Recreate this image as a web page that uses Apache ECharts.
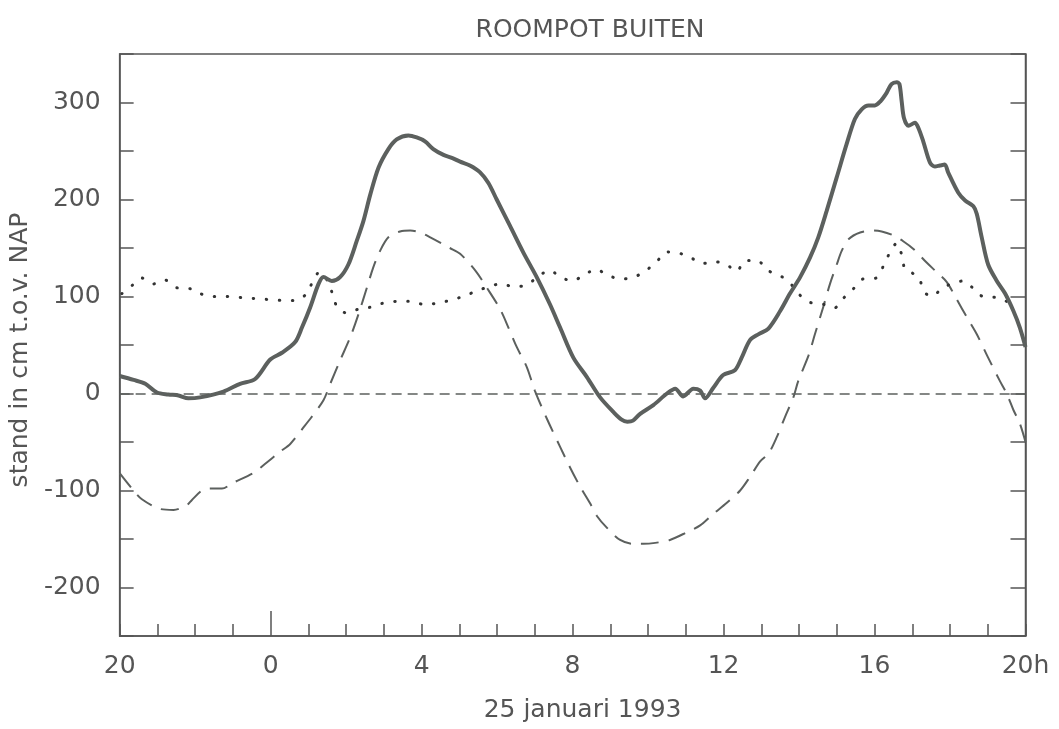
<!DOCTYPE html>
<html>
<head>
<meta charset="utf-8">
<script src="https://cdn.jsdelivr.net/npm/echarts@6/dist/echarts.min.js"></script>
<style>html,body{margin:0;padding:0;background:#fff}#c{width:1059px;height:729px}</style>
</head>
<body>
<div id="c"></div>
<script>
// hours since 20h on 24 Jan 1993 (0..24) -> water level in cm NAP
const titleText = 'ROOMPOT BUITEN';
const xName = '25 januari 1993';
const yName = 'stand in cm t.o.v. NAP';
const xTickLabels = ['20', '0', '4', '8', '12', '16', '20h'];
const xLabelHours = [0, 4, 8, 12, 16, 20, 24];
const midnightHour = [4];

const measured = [
  [0,18],[0.37,14],[0.68,10],[0.99,1],[1.29,-1],[1.56,-2],[1.82,-5],[2.13,-4],[2.75,2],[3.19,10],
  [3.59,15],[3.99,35],[4.3,42],[4.65,53],[4.83,68],[5.05,89],[5.27,113],[5.4,120],[5.62,116],[5.84,120],
  [6.06,133],[6.28,157],[6.46,178],[6.64,205],[6.86,233],[7.12,252],[7.34,262],[7.65,266],[7.87,264],[8.09,260],
  [8.31,252],[8.58,246],[8.8,243],[9.02,239],[9.28,235],[9.55,228],[9.77,217],[9.99,200],[10.34,173],[10.7,145],
  [11.05,120],[11.4,92],[11.67,68],[12.02,37],[12.38,17],[12.73,-4],[13.08,-19],[13.3,-27],[13.45,-29],[13.6,-28],
  [13.79,-21],[14.14,-12],[14.5,0],[14.72,5],[14.93,-3],[15.2,5],[15.38,3],[15.51,-5],[15.73,6],[15.99,19],
  [16.3,24],[16.48,37],[16.7,55],[16.92,61],[17.19,67],[17.5,85],[17.76,103],[18.03,120],[18.29,140],[18.51,161],
  [18.73,188],[19.0,223],[19.26,257],[19.48,283],[19.66,293],[19.84,297],[20.01,297],[20.15,301],[20.32,310],[20.45,319],
  [20.59,321],[20.66,319],[20.72,301],[20.78,284],[20.9,276],[21.07,279],[21.16,274],[21.29,260],[21.47,238],[21.6,234],
  [21.73,235],[21.86,236],[21.95,228],[22.22,207],[22.4,199],[22.62,193],[22.71,185],[22.84,161],[23.01,133],[23.24,116],
  [23.46,103],[23.68,85],[23.85,68],[24.0,48]
];

const astronomical = [
  [0,-82],[0.37,-100],[0.59,-109],[1.07,-119],[1.43,-120],[1.78,-115],[1.91,-110],[2.18,-100],[2.4,-98],[2.71,-98],
  [3.01,-92],[3.54,-82],[3.81,-74],[4.25,-60],[4.52,-52],[4.87,-35],[5.09,-24],[5.4,-7],[5.58,10],[5.84,34],
  [6.11,58],[6.33,82],[6.55,109],[6.72,130],[6.9,147],[7.12,161],[7.43,167],[7.7,168],[7.96,166],[8.23,161],
  [8.75,150],[9.02,144],[9.42,127],[9.73,109],[10.08,87],[10.3,68],[10.52,48],[10.79,27],[11.0,3],[11.32,-26],
  [11.67,-55],[11.93,-76],[12.2,-96],[12.46,-113],[12.64,-126],[12.9,-138],[13.26,-151],[13.61,-155],[13.88,-155],[14.19,-154],
  [14.58,-151],[15.03,-143],[15.38,-136],[15.73,-124],[16.08,-113],[16.44,-100],[16.7,-86],[16.97,-70],[17.19,-62],[17.41,-45],
  [17.63,-24],[17.85,-4],[17.98,13],[18.25,39],[18.42,61],[18.64,89],[18.82,113],[19.0,133],[19.13,147],[19.31,159],
  [19.62,166],[19.97,168],[20.19,167],[20.5,163],[20.76,157],[21.03,149],[21.38,135],[21.65,125],[21.91,115],[22.18,97],
  [22.44,79],[22.71,61],[23.01,37],[23.32,13],[23.5,0],[23.68,-17],[23.85,-31],[24.0,-50]
];

const dotted = [
  [0.06,103],[0.35,112],[0.59,119],[0.9,113],[1.2,117],[1.52,109],[1.87,108],[2.13,103],[2.48,100],[2.84,100],
  [3.19,99],[3.54,98],[3.9,97],[4.3,96],[4.65,96],[4.96,103],[5.11,115],[5.29,125],[5.53,115],[5.65,101],
  [5.78,88],[6.02,83],[6.33,87],[6.64,89],[6.97,93],[7.34,95],[7.7,95],[8.05,92],[8.4,93],[8.75,96],
  [9.09,100],[9.42,105],[9.77,110],[10.1,113],[10.46,110],[10.79,112],[11.07,120],[11.39,127],[11.65,121],[11.98,116],
  [12.3,122],[12.62,128],[12.93,122],[13.28,118],[13.63,120],[13.95,127],[14.23,136],[14.5,146],[14.8,145],[15.13,140],
  [15.45,134],[15.75,136],[16.07,133],[16.35,126],[16.57,137],[16.9,137],[17.16,127],[17.48,122],[17.78,113],[17.98,103],
  [18.29,94],[18.64,92],[18.93,88],[19.17,98],[19.44,108],[19.69,118],[20.04,119],[20.23,131],[20.39,144],[20.59,155],
  [20.72,143],[20.81,128],[21.01,124],[21.19,118],[21.31,105],[21.52,100],[21.8,109],[22.04,113],[22.34,116],[22.6,109],
  [22.87,100],[23.2,99],[23.5,95],[23.81,91]
];

const zeroLevel = 0;

const FONT = 'DejaVu Sans';
const TXT = '#555555';
const AX = '#555555';
const LINE = '#5c605e';

const chart = echarts.init(document.getElementById('c'), null, {renderer: 'canvas'});
chart.setOption({
  animation: false,
  backgroundColor: '#ffffff',
  textStyle: {fontFamily: FONT},
  title: {
    text: titleText, left: 585, top: 13, textAlign: 'center',
    textStyle: {fontFamily: FONT, fontSize: 25, fontWeight: 'normal', color: TXT}
  },
  grid: {left: 119.5, right: 33.5, top: 54, bottom: 93, show: true, borderColor: AX, borderWidth: 1.5, backgroundColor: 'transparent'},
  xAxis: [{
    type: 'value', min: 0, max: 24, interval: 1,
    axisLine: {show: true, onZero: false, lineStyle: {color: AX, width: 1.5}},
    axisTick: {show: true, inside: true, length: 12, lineStyle: {color: AX, width: 1.5}},
    axisLabel: {
      customValues: xLabelHours,
      formatter: function (v) { const i = xLabelHours.indexOf(v); return i >= 0 ? xTickLabels[i] : ''; },
      fontFamily: FONT, fontSize: 25, color: TXT, margin: 18
    },
    splitLine: {show: false},
    name: xName, nameLocation: 'middle', nameGap: 62,
    nameTextStyle: {fontFamily: FONT, fontSize: 25, color: TXT, padding: [0, 0, 0, 20]}
  }, {
    type: 'value', min: 0, max: 24, position: 'bottom',
    axisLine: {show: false, onZero: false},
    axisTick: {show: true, inside: true, length: 25, customValues: midnightHour, lineStyle: {color: AX, width: 1.5}},
    axisLabel: {show: false},
    splitLine: {show: false}
  }],
  yAxis: [{
    type: 'value', min: -250, max: 350, interval: 50,
    axisLine: {show: true, onZero: false, lineStyle: {color: AX, width: 1.5}},
    axisTick: {show: true, inside: true, length: 14, lineStyle: {color: AX, width: 1.5}},
    axisLabel: {
      formatter: function (v) { return v % 100 === 0 ? String(v) : ''; },
      fontFamily: FONT, fontSize: 25, color: TXT, margin: 19
    },
    splitLine: {show: false},
    name: yName, nameLocation: 'middle', nameGap: 84, nameRotate: 90,
    nameTextStyle: {fontFamily: FONT, fontSize: 25, color: TXT, padding: [0, 10, 0, 0]}
  }, {
    type: 'value', min: -250, max: 350, interval: 50, position: 'right',
    axisLine: {show: true, onZero: false, lineStyle: {color: AX, width: 1.5}},
    axisTick: {show: true, inside: true, length: 15, lineStyle: {color: AX, width: 1.5}},
    axisLabel: {show: false},
    splitLine: {show: false}
  }],
  series: [{
    name: 'zero', type: 'line', data: [], silent: true,
    markLine: {
      silent: true, symbol: ['none', 'none'], label: {show: false},
      lineStyle: {color: LINE, width: 1.5, type: [10, 6]},
      data: [{yAxis: zeroLevel}]
    }
  }, {
    name: 'astronomisch', type: 'line', data: astronomical, showSymbol: false, smooth: 0.3,
    lineStyle: {color: LINE, width: 2, type: [18, 10]}, z: 3
  }, {
    name: 'verschil', type: 'line', data: dotted, showSymbol: false, smooth: 0.3,
    lineStyle: {color: '#333333', width: 3, type: [0.5, 12.5], cap: 'round'}, z: 3
  }, {
    name: 'gemeten', type: 'line', data: measured, showSymbol: false, smooth: 0.3,
    lineStyle: {color: LINE, width: 4}, z: 4
  }]
});
</script>
</body>
</html>
